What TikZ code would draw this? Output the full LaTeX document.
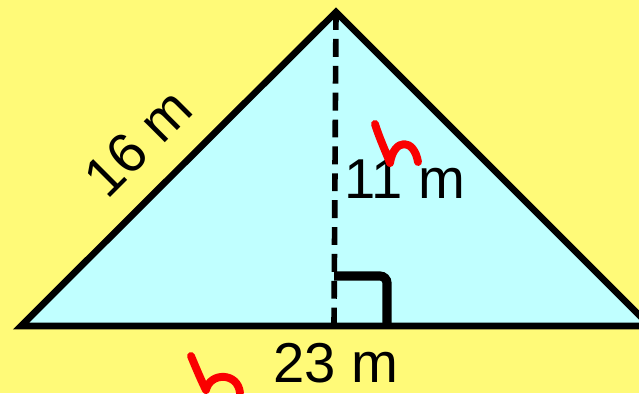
\documentclass[tikz,border=0pt]{standalone}
\usepackage{fontspec}
\setmainfont{Liberation Sans}
\usetikzlibrary{calc}
\definecolor{paperyellow}{RGB}{255,250,120}
\definecolor{lightcyan}{RGB}{192,255,255}
\definecolor{penred}{RGB}{250,0,0}
\tikzstyle{side} = [line width=3.8pt, line join=miter]
\tikzstyle{height} = [line width=3.2pt, dash pattern=on 10.2pt off 5.1pt]
\tikzstyle{rightangle} = [line width=5.2pt, rounded corners=4pt]
\tikzstyle{measure} = [font=\fontsize{32}{38}\selectfont, inner sep=0pt]
\tikzstyle{scribble} = [penred, line width=4.5pt, line cap=round, line join=round]

\begin{document}
\begin{tikzpicture}[x=0.02cm, y=-0.02cm]
  \fill[paperyellow] (0,0) rectangle (639,393);
  \useasboundingbox (0,0) rectangle (639,393);
  \coordinate (left) at (21,326);
  \coordinate (apex) at (336,12);
  \coordinate (right) at (650,326);
  \coordinate (foot) at (334,326);

  \begin{scope}
    \clip (0,0) rectangle (639,393);
    \filldraw[side, fill=lightcyan] (left) -- (apex) -- (right) -- cycle;
  \end{scope}
  \draw[height] (apex) -- (foot);
  \draw[rightangle] (334,276) -- (387,276) -- (387,326);

  \node[measure, rotate=45] (slant) at (138,143) {16 m};
  \node[measure] (hlabel) at (405,179) {11 m};
  \node[measure] (blabel) at (336,363) {23 m};

  % red marks
  \draw[scribble] (375,124) .. controls (380,140) and (386,152) .. (390,163)
    .. controls (394,138) and (414,138) .. (418,162);
  \draw[scribble] (191,356) .. controls (196,368) and (201,380) .. (206,390)
    .. controls (210,372) and (238,372) .. (240,393);
\end{tikzpicture}
\end{document}
